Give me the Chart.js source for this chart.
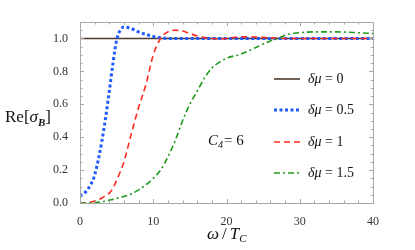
<!DOCTYPE html>
<html>
<head>
<meta charset="utf-8">
<script src="https://cdn.jsdelivr.net/npm/chart.js@4.4.1/dist/chart.umd.min.js"></script>
<style>
  html, body { margin: 0; padding: 0; background: #fff; }
  #wrap { width: 415px; height: 250px; }
</style>
</head>
<body>
<div id="wrap"><canvas id="chart" width="415" height="250"></canvas></div>
<script>
// omega / T_c sample points
const omega = [0, 1, 2, 3, 3.5, 4, 4.5, 5, 5.5, 6, 7, 8, 9, 10, 11, 12, 13, 14, 15, 16, 17, 18, 19, 20, 22, 24, 26, 27, 28, 29, 30, 32, 35, 38, 40];

// Re[sigma_B] for each delta mu
const mu0   = omega.map(() => 1);
const mu05  = [0.04, 0.08, 0.17, 0.38, 0.52, 0.68, 0.85, 0.99, 1.05, 1.07, 1.06, 1.04, 1.025, 1.012, 1.005, 1.0, 1.0, 1.0, 1.0, 1.0, 1.0, 1.0, 1.0, 1.0, 1.0, 1.0, 1.0, 1.0, 1.0, 1.0, 1.0, 1.0, 1.0, 1.0, 1.0];
const mu1   = [0, 0.002, 0.012, 0.03, 0.045, 0.06, 0.09, 0.14, 0.19, 0.25, 0.42, 0.58, 0.72, 0.9, 1.0, 1.04, 1.05, 1.045, 1.03, 1.015, 1.005, 1.0, 0.997, 1.0, 1.01, 1.008, 1.004, 1.002, 1.0, 1.0, 1.0, 1.0, 1.0, 1.0, 1.0];
const mu15  = [0, 0, 0.003, 0.008, 0.012, 0.018, 0.022, 0.028, 0.034, 0.04, 0.055, 0.08, 0.11, 0.15, 0.2, 0.28, 0.38, 0.5, 0.6, 0.68, 0.76, 0.82, 0.855, 0.88, 0.905, 0.945, 0.985, 1.0, 1.02, 1.03, 1.035, 1.04, 1.04, 1.035, 1.03];

const seriesNames = ['0', '0.5', '1', '1.5'];
const xTicks = [0, 10, 20, 30, 40];
const yTicks = [0, 0.2, 0.4, 0.6, 0.8, 1.0];

const pts = arr => omega.map((w, i) => ({ x: w, y: arr[i] }));

const serif = '"Liberation Serif", "DejaVu Serif", serif';

// later series drawn on top (as in the source plot)
const datasets = [
  { label: seriesNames[0], data: pts(mu0),  borderColor: '#4d3b2e', borderWidth: 1.6, borderDash: [],          order: 4 },
  { label: seriesNames[1], data: pts(mu05), borderColor: '#1f5bff', borderWidth: 3,   borderDash: [3, 2.5],     order: 3 },
  { label: seriesNames[2], data: pts(mu1),  borderColor: '#ff2a1f', borderWidth: 1.6, borderDash: [6, 4],       order: 2 },
  { label: seriesNames[3], data: pts(mu15), borderColor: '#1f9a1f', borderWidth: 1.6, borderDash: [6, 3, 2, 3], order: 1 },
].map(d => Object.assign(d, { pointRadius: 0, fill: false, tension: 0.4, cubicInterpolationMode: 'monotone' }));

// draws text pieces one after another: [text, font, dy, extraGap]
function drawRich(ctx, x, y, parts) {
  let cx = x;
  parts.forEach(p => {
    ctx.font = p[1];
    ctx.fillText(p[0], cx, y + (p[2] || 0));
    cx += ctx.measureText(p[0]).width + (p[3] || 0);
  });
}

const decor = {
  id: 'decor',
  afterDraw(chart) {
    const ctx = chart.ctx;
    const a = chart.chartArea;
    const xs = chart.scales.x, ys = chart.scales.y;
    ctx.save();
    // frame
    ctx.strokeStyle = '#a8a8a8';
    ctx.lineWidth = 1;
    ctx.strokeRect(Math.round(a.left) + 0.5, Math.round(a.top) + 0.5, Math.round(a.right - a.left), Math.round(a.bottom - a.top));
    // ticks inside
    ctx.beginPath();
    for (let v = 0; v <= 40.001; v += 2) {
      const px = Math.round(xs.getPixelForValue(v)) + 0.5;
      const len = (v % 10 === 0) ? 4 : 2.5;
      ctx.moveTo(px, a.bottom); ctx.lineTo(px, a.bottom - len);
      ctx.moveTo(px, a.top); ctx.lineTo(px, a.top + len);
    }
    for (let i = 0; i <= 22; i++) {
      const v = i * 0.05;
      const py = Math.round(ys.getPixelForValue(v)) + 0.5;
      const len = (i % 4 === 0) ? 4 : 2.5;
      ctx.moveTo(a.left, py); ctx.lineTo(a.left + len, py);
      ctx.moveTo(a.right, py); ctx.lineTo(a.right - len, py);
    }
    ctx.stroke();

    // legend
    const rows = [79, 110, 142, 173];
    const legendOrder = [0, 1, 2, 3];
    legendOrder.forEach((idx, i) => {
      const d = chart.data.datasets[idx];
      const y = rows[i];
      ctx.strokeStyle = d.borderColor;
      ctx.lineWidth = d.borderWidth;
      ctx.setLineDash(d.borderDash);
      ctx.beginPath();
      ctx.moveTo(274, y); ctx.lineTo(300, y);
      ctx.stroke();
      ctx.setLineDash([]);
      ctx.fillStyle = '#111';
      ctx.textBaseline = 'middle';
      drawRich(ctx, 308, y, [
        ['δμ', 'italic 14px ' + serif],
        [' = ' + d.label, '14px ' + serif],
      ]);
    });

    // C4 = 6
    ctx.fillStyle = '#111';
    ctx.textBaseline = 'alphabetic';
    drawRich(ctx, 208, 145, [
      ['C', 'italic 15px ' + serif],
      ['4', 'italic 10px ' + serif, 3, 1],
      ['= 6', '15px ' + serif],
    ]);

    // x title
    drawRich(ctx, 207, 239, [
      ['ω', 'italic 17px ' + serif, 0, 3],
      ['/', '17px ' + serif, 0, 3],
      ['T', 'italic 17px ' + serif],
      ['C', 'italic 11px ' + serif, 3],
    ]);

    // y title
    drawRich(ctx, 5, 122, [
      ['Re[', '17px ' + serif],
      ['σ', 'italic 17px ' + serif],
      ['B', 'bold italic 11px ' + serif, 4],
      [']', '17px ' + serif],
    ]);
    ctx.restore();
  }
};

new Chart(document.getElementById('chart'), {
  type: 'line',
  data: { datasets: datasets },
  options: {
    responsive: false,
    animation: false,
    layout: { padding: { left: 0, top: 22, right: 42, bottom: 0 } },
    plugins: { legend: { display: false }, tooltip: { enabled: false } },
    scales: {
      x: {
        type: 'linear',
        min: 0, max: 40,
        grid: { display: false },
        border: { display: false },
        afterBuildTicks: s => { s.ticks = xTicks.map(v => ({ value: v })); },
        afterFit: s => { s.height = 47; },
        ticks: { color: '#333', padding: 4, font: { family: serif, size: 12 }, callback: v => String(v) },
      },
      y: {
        min: 0, max: 1.1,
        grid: { display: false },
        border: { display: false },
        afterBuildTicks: s => { s.ticks = yTicks.map(v => ({ value: v })); },
        afterFit: s => { s.width = 80; },
        ticks: { color: '#333', padding: 4, font: { family: serif, size: 12 }, callback: v => v.toFixed(1) },
      },
    },
  },
  plugins: [decor],
});
</script>
</body>
</html>
